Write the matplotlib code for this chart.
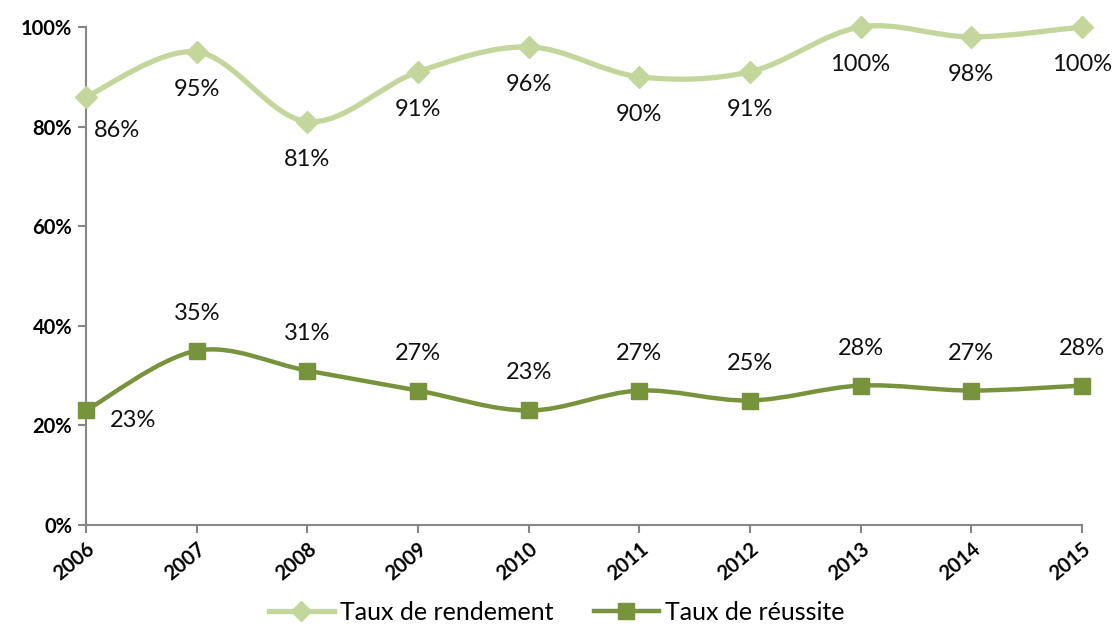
import numpy as np
import matplotlib.pyplot as plt
from matplotlib.path import Path
from matplotlib.patches import PathPatch
from matplotlib.lines import Line2D

# Données
annees = [2006, 2007, 2008, 2009, 2010, 2011, 2012, 2013, 2014, 2015]
rendement = [86, 95, 81, 91, 96, 90, 91, 100, 98, 100]
reussite = [23, 35, 31, 27, 23, 27, 25, 28, 27, 28]

c_clair = '#C3D69B'
c_fonce = '#77933C'

plt.rcParams['font.family'] = ['Lato', 'DejaVu Sans']


def courbe_lisse(ax, x, y, color, lw):
    # courbe de Bezier type Excel (lissage)
    x = np.asarray(x, float)
    y = np.asarray(y, float)
    n = len(x)
    verts = [(x[0], y[0])]
    codes = [Path.MOVETO]
    for i in range(n - 1):
        p0 = np.array([x[max(i - 1, 0)], y[max(i - 1, 0)]])
        p1 = np.array([x[i], y[i]])
        p2 = np.array([x[i + 1], y[i + 1]])
        p3 = np.array([x[min(i + 2, n - 1)], y[min(i + 2, n - 1)]])
        c1 = p1 + (p2 - p0) / 6
        c2 = p2 - (p3 - p1) / 6
        verts += [tuple(c1), tuple(c2), tuple(p2)]
        codes += [Path.CURVE4] * 3
    ax.add_patch(PathPatch(Path(verts, codes), fill=False, edgecolor=color,
                           lw=lw, capstyle='round', joinstyle='round', zorder=2,
                           clip_on=False))


fig = plt.figure(figsize=(11.13, 6.26), dpi=100)
ax = fig.add_axes([0.0773, 0.1613, 0.8947, 0.7956])

courbe_lisse(ax, annees, rendement, c_clair, 3.8)
courbe_lisse(ax, annees, reussite, c_fonce, 3.2)
ax.plot(annees, rendement, ls='none', marker='D', ms=11, color=c_clair, zorder=3, clip_on=False)
ax.plot(annees, reussite, ls='none', marker='s', ms=12, color=c_fonce, zorder=3, clip_on=False)

for i, (a, v) in enumerate(zip(annees, rendement)):
    off = (22, -24) if i == 0 else (0, -27)
    ax.annotate(f'{v}%', (a, v), xytext=off, textcoords='offset points',
                ha='center', va='center', fontsize=17, color='#111111')
for i, (a, v) in enumerate(zip(annees, reussite)):
    off = (34, -7) if i == 0 else (0, 27)
    ax.annotate(f'{v}%', (a, v), xytext=off, textcoords='offset points',
                ha='center', va='center', fontsize=17, color='#111111')

ax.set_xlim(2006, 2015)
ax.set_ylim(0, 100)
ax.set_yticks(range(0, 101, 20))
ax.set_yticklabels([f'{t}%' for t in range(0, 101, 20)], fontsize=14.5, fontweight='bold')
ax.set_xticks(annees)
ax.set_xticklabels([str(a) for a in annees], fontsize=14.5, fontweight='bold',
                   rotation=40, ha='right', rotation_mode='anchor')
for s in ['top', 'right']:
    ax.spines[s].set_visible(False)
for s in ['left', 'bottom']:
    ax.spines[s].set_color('#868686')
    ax.spines[s].set_linewidth(1.5)
ax.tick_params(axis='both', direction='out', length=6, width=1.5, color='#868686', pad=4)

handles = [Line2D([], [], color=c_clair, lw=3.8, marker='D', ms=10),
           Line2D([], [], color=c_fonce, lw=3.2, marker='s', ms=11)]
fig.legend(handles, ['Taux de rendement', 'Taux de réussite'], loc='center',
           bbox_to_anchor=(0.5, 0.022), ncol=2, frameon=False, fontsize=18,
           handlelength=2.6, handletextpad=0.25, columnspacing=1.6)

fig.savefig('out.png', dpi=100)
